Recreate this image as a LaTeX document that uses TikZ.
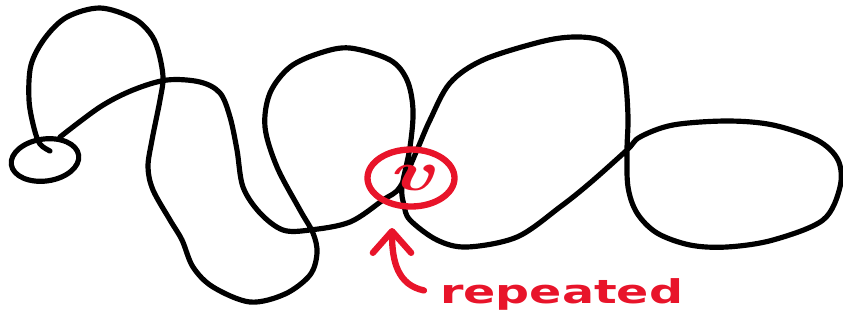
\documentclass[tikz,border=0pt]{standalone}
\usepackage{fontspec}
\newfontfamily\penfont{DejaVu Sans}
\usetikzlibrary{shapes.geometric, arrows.meta, positioning}
\definecolor{penred}{RGB}{232,20,42}

\tikzset{
  inkline/.style={line width=0.155cm, line cap=round, line join=round},
  redline/.style={draw=penred, line width=0.19cm, line cap=round, line join=round},
}

\begin{document}
\begin{tikzpicture}[x=0.03cm, y=-0.03cm]
    \useasboundingbox (0,0) rectangle (843,322);

    % the walk
    \draw[inkline, rotate around={8:(45,160)}] (45,160) ellipse [x radius=34, y radius=21];
    \draw[inkline] plot[smooth, tension=0.55] coordinates {
        (50,151) (40,144) (34,128) (29,100) (31,65) (45,38) (67,17) (100,8)
        (133,18) (150,33) (158,50) (163,77) (160,100) (152,140) (148,167)
        (153,190) (170,220) (182,240) (193,267) (213,287) (250,302) (285,294)
        (310,275) (317,253) (313,233) (300,210) (277,167) (265,127) (270,93)
        (290,67) (320,53) (350,48) (390,60) (407,80) (413,110) (410,147)
        (402,187) (404,205) (410,220) (437,240) (467,247) (517,237) (560,207)
        (590,183) (627,150) (640,137) (673,125) (727,121) (773,125) (817,140)
        (838,160) (840,187) (823,220) (773,240) (727,247) (690,245) (657,233)
        (637,213) (628,187) (627,150) (628,117) (625,77) (617,53) (600,40)
        (573,37) (540,42) (483,60) (450,83) (430,120) (417,150) (400,187)
        (383,200) (350,222) (310,230) (283,230) (260,213) (243,187) (237,150)
        (230,117) (220,93) (200,82) (167,80) (133,90) (100,107) (60,137)};

    % repeated vertex
    \node[ellipse, redline, minimum width=2.61cm, minimum height=1.71cm, inner sep=0pt,
          text=penred] (rep) at (411,178)
          {\fontsize{48}{48}\selectfont\bfseries\itshape\scalebox{1.5}[1]{v}\hspace{6pt}};

    \node[text=penred, anchor=base west, xscale=1.45, transform shape, inner sep=1pt]
          (lbl) at (438,303) {\penfont\bfseries\fontsize{28}{28}\selectfont repeated};

    \coordinate (tip) at (392,228);
    \draw[redline, -{Straight Barb[length=0.65cm, width=1.15cm, round]}]
          ([shift={(-12pt,3pt)}]lbl.west) .. controls (398,285) and (392,262) .. (tip);
\end{tikzpicture}
\end{document}
